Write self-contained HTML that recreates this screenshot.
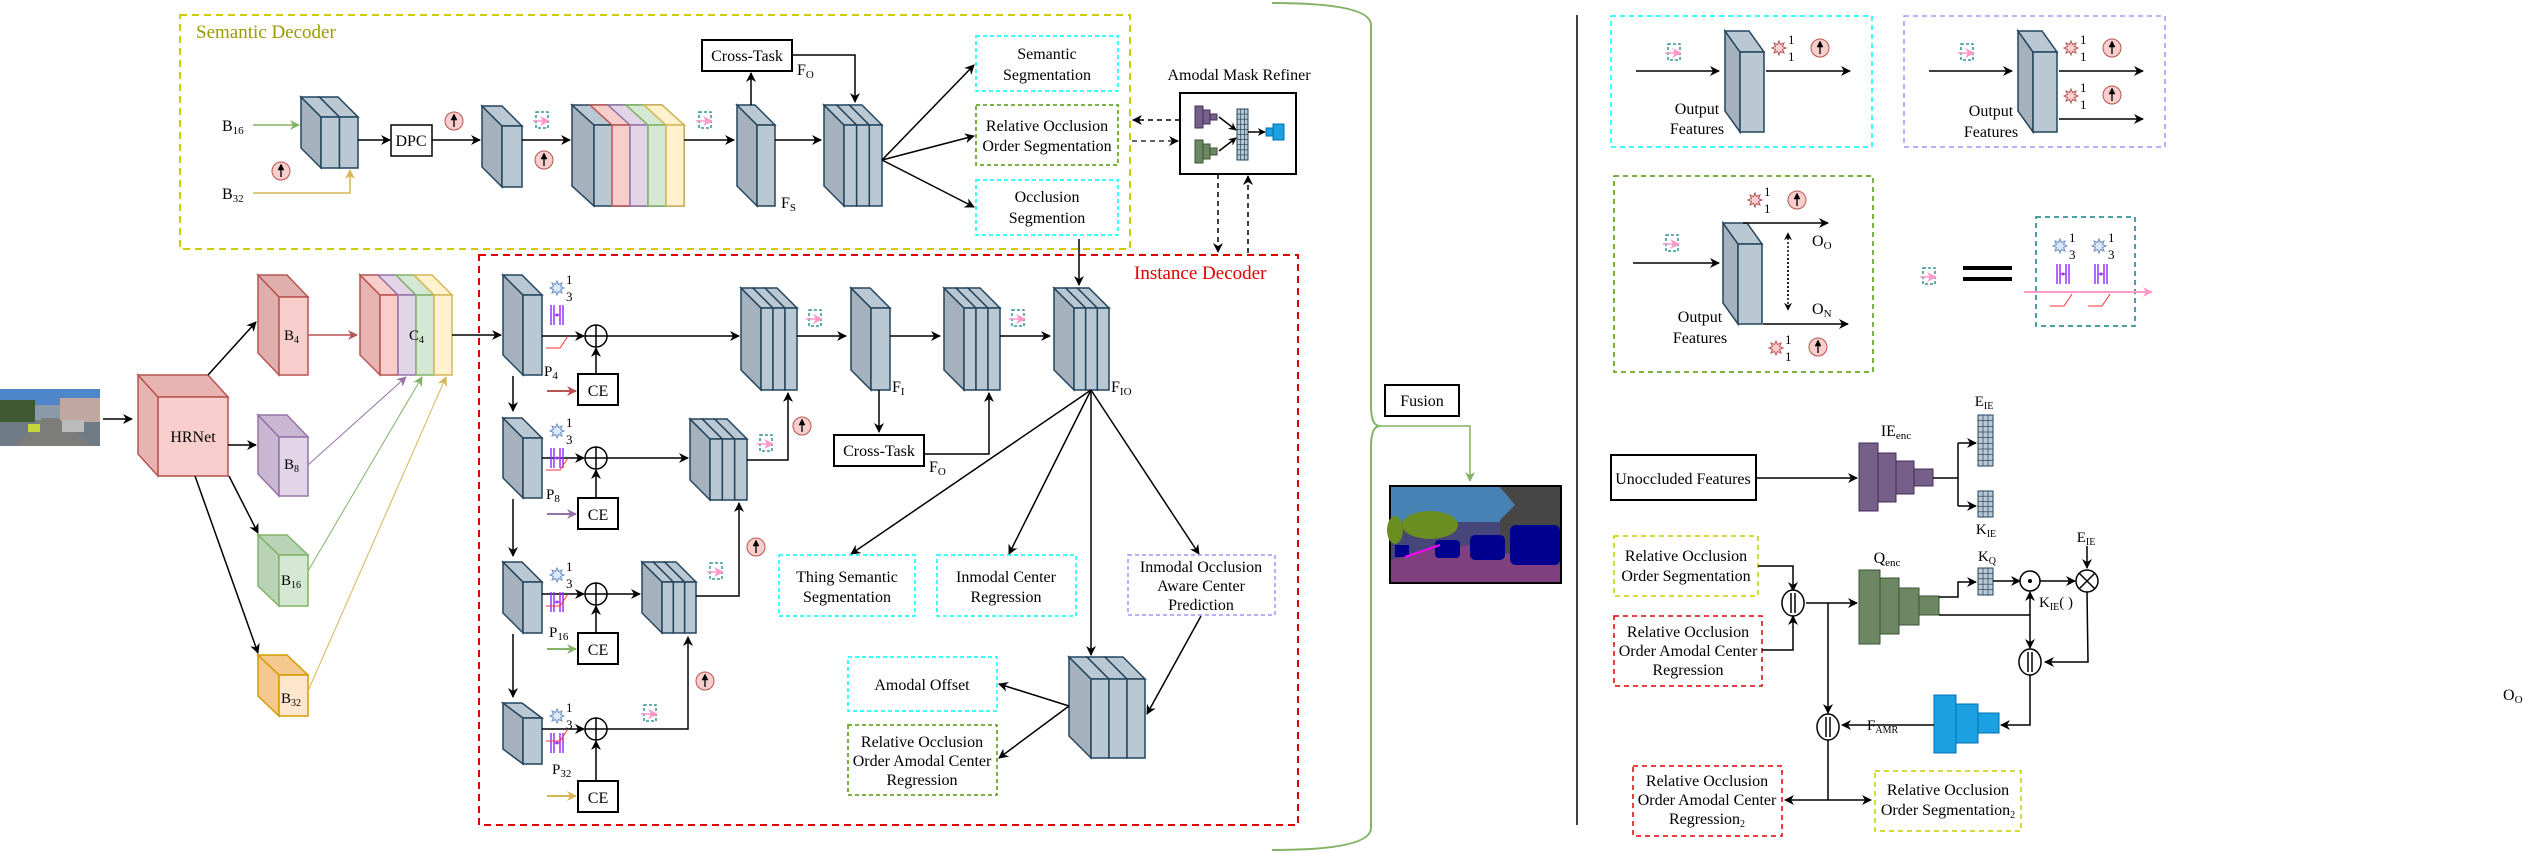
<!DOCTYPE html>
<html><head><meta charset="utf-8"><style>
html,body{margin:0;padding:0;background:#fff;}
svg{display:block;font-family:"Liberation Serif",serif;}
text{font-family:"Liberation Serif",serif;font-size:16px;fill:#000;}
</style></head><body>
<svg id="s" width="2525" height="853" viewBox="0 0 2525 853" xmlns="http://www.w3.org/2000/svg">
<defs>
<marker id="ak" viewBox="0 0 10 10" refX="9" refY="5" markerWidth="10" markerHeight="10" markerUnits="userSpaceOnUse" orient="auto"><path d="M0,0 L10,5 L0,10 L3,5z" fill="#000"/></marker>
<marker id="ar" viewBox="0 0 10 10" refX="9" refY="5" markerWidth="10" markerHeight="10" markerUnits="userSpaceOnUse" orient="auto"><path d="M0,0 L10,5 L0,10 L3,5z" fill="#b85450"/></marker>
<marker id="ap" viewBox="0 0 10 10" refX="9" refY="5" markerWidth="10" markerHeight="10" markerUnits="userSpaceOnUse" orient="auto"><path d="M0,0 L10,5 L0,10 L3,5z" fill="#9673a6"/></marker>
<marker id="ag" viewBox="0 0 10 10" refX="9" refY="5" markerWidth="10" markerHeight="10" markerUnits="userSpaceOnUse" orient="auto"><path d="M0,0 L10,5 L0,10 L3,5z" fill="#82b366"/></marker>
<marker id="ay" viewBox="0 0 10 10" refX="9" refY="5" markerWidth="10" markerHeight="10" markerUnits="userSpaceOnUse" orient="auto"><path d="M0,0 L10,5 L0,10 L3,5z" fill="#d6b656"/></marker>
<marker id="apk" viewBox="0 0 10 10" refX="9" refY="5" markerWidth="10" markerHeight="10" markerUnits="userSpaceOnUse" orient="auto"><path d="M0,0 L10,5 L0,10 L3,5z" fill="#ff99cc"/></marker>
<marker id="ak2" viewBox="0 0 10 10" refX="9" refY="5" markerWidth="8" markerHeight="8" markerUnits="userSpaceOnUse" orient="auto"><path d="M0,0 L10,5 L0,10 L3,5z" fill="#000"/></marker>
</defs>
<g id="g"></g>

<text x="196" y="38" style="font-size:19px;fill:#999900">Semantic Decoder</text>
<text x="222" y="131" style="font-size:16px">B<tspan font-size="11" dy="3">16</tspan></text>
<text x="222" y="199" style="font-size:16px">B<tspan font-size="11" dy="3">32</tspan></text>
<text x="411" y="146" text-anchor="middle" style="font-size:16px">DPC</text>
<text x="747" y="61" text-anchor="middle" style="font-size:16px">Cross-Task</text>
<text x="797" y="75" style="font-size:16px">F<tspan font-size="11" dy="3">O</tspan></text>
<text x="781" y="208" style="font-size:16px">F<tspan font-size="11" dy="3">S</tspan></text>
<text x="1047" y="59" text-anchor="middle" style="font-size:16px">Semantic</text>
<text x="1047" y="80" text-anchor="middle" style="font-size:16px">Segmentation</text>
<text x="1047" y="131" text-anchor="middle" style="font-size:16px">Relative Occlusion</text>
<text x="1047" y="151" text-anchor="middle" style="font-size:16px">Order Segmentation</text>
<text x="1047" y="202" text-anchor="middle" style="font-size:16px">Occlusion</text>
<text x="1047" y="223" text-anchor="middle" style="font-size:16px">Segmention</text>
<text x="1239" y="80" text-anchor="middle" style="font-size:16px">Amodal Mask Refiner</text>

<text x="193" y="442" text-anchor="middle" style="font-size:16px">HRNet</text>
<text x="284" y="340" style="font-size:15px">B<tspan font-size="10" dy="3">4</tspan></text>
<text x="284" y="469" style="font-size:15px">B<tspan font-size="10" dy="3">8</tspan></text>
<text x="281" y="585" style="font-size:15px">B<tspan font-size="10" dy="3">16</tspan></text>
<text x="281" y="703" style="font-size:15px">B<tspan font-size="10" dy="3">32</tspan></text>
<text x="409" y="340" style="font-size:15px">C<tspan font-size="10" dy="3">4</tspan></text>

<text x="1134" y="279" style="font-size:19px;fill:#e00000">Instance Decoder</text>
<text x="544" y="376" style="font-size:15px">P<tspan font-size="11" dy="3">4</tspan></text>
<text x="546" y="499" style="font-size:15px">P<tspan font-size="11" dy="3">8</tspan></text>
<text x="549" y="637" style="font-size:15px">P<tspan font-size="11" dy="3">16</tspan></text>
<text x="552" y="774" style="font-size:15px">P<tspan font-size="11" dy="3">32</tspan></text>
<text x="598" y="396" text-anchor="middle" style="font-size:16px">CE</text>
<text x="598" y="520" text-anchor="middle" style="font-size:16px">CE</text>
<text x="598" y="655" text-anchor="middle" style="font-size:16px">CE</text>
<text x="598" y="803" text-anchor="middle" style="font-size:16px">CE</text>
<text x="892" y="392" style="font-size:16px">F<tspan font-size="11" dy="3">I</tspan></text>
<text x="879" y="456" text-anchor="middle" style="font-size:16px">Cross-Task</text>
<text x="929" y="472" style="font-size:16px">F<tspan font-size="11" dy="3">O</tspan></text>
<text x="1111" y="392" style="font-size:16px">F<tspan font-size="11" dy="3">IO</tspan></text>
<text x="847" y="582" text-anchor="middle" style="font-size:16px">Thing Semantic</text>
<text x="847" y="602" text-anchor="middle" style="font-size:16px">Segmentation</text>
<text x="1006" y="582" text-anchor="middle" style="font-size:16px">Inmodal Center</text>
<text x="1006" y="602" text-anchor="middle" style="font-size:16px">Regression</text>
<text x="1201" y="572" text-anchor="middle" style="font-size:16px">Inmodal Occlusion</text>
<text x="1201" y="591" text-anchor="middle" style="font-size:16px">Aware Center</text>
<text x="1201" y="610" text-anchor="middle" style="font-size:16px">Prediction</text>
<text x="922" y="690" text-anchor="middle" style="font-size:16px">Amodal Offset</text>
<text x="922" y="747" text-anchor="middle" style="font-size:16px">Relative Occlusion</text>
<text x="922" y="766" text-anchor="middle" style="font-size:16px">Order Amodal Center</text>
<text x="922" y="785" text-anchor="middle" style="font-size:16px">Regression</text>

<text x="1422" y="406" text-anchor="middle" style="font-size:16px">Fusion</text>

<text x="1697" y="114" text-anchor="middle" style="font-size:16px">Output</text>
<text x="1697" y="134" text-anchor="middle" style="font-size:16px">Features</text>
<text x="1991" y="116" text-anchor="middle" style="font-size:16px">Output</text>
<text x="1991" y="137" text-anchor="middle" style="font-size:16px">Features</text>
<text x="1700" y="322" text-anchor="middle" style="font-size:16px">Output</text>
<text x="1700" y="343" text-anchor="middle" style="font-size:16px">Features</text>
<text x="1812" y="246" style="font-size:16px">O<tspan font-size="11" dy="3">O</tspan></text>
<text x="1812" y="314" style="font-size:16px">O<tspan font-size="11" dy="3">N</tspan></text>

<text x="1984" y="406" text-anchor="middle" style="font-size:15px">E<tspan font-size="10" dy="3">IE</tspan></text>
<text x="1896" y="436" text-anchor="middle" style="font-size:16px">IE<tspan font-size="11" dy="3">enc</tspan></text>
<text x="1683" y="484" text-anchor="middle" style="font-size:16px">Unoccluded Features</text>
<text x="1986" y="534" text-anchor="middle" style="font-size:15px">K<tspan font-size="10" dy="3">IE</tspan></text>
<text x="2086" y="542" text-anchor="middle" style="font-size:15px">E<tspan font-size="10" dy="3">IE</tspan></text>
<text x="1987" y="561" text-anchor="middle" style="font-size:15px">K<tspan font-size="10" dy="3">Q</tspan></text>
<text x="1887" y="563" text-anchor="middle" style="font-size:16px">Q<tspan font-size="11" dy="3">enc</tspan></text>
<text x="2039" y="607" style="font-size:15px">K<tspan font-size="10" dy="3">IE</tspan><tspan dy="-3">( )</tspan></text>
<text x="1867" y="730" style="font-size:15px">F<tspan font-size="10" dy="3">AMR</tspan></text>
<text x="1686" y="561" text-anchor="middle" style="font-size:16px">Relative Occlusion</text>
<text x="1686" y="581" text-anchor="middle" style="font-size:16px">Order Segmentation</text>
<text x="1688" y="637" text-anchor="middle" style="font-size:16px">Relative Occlusion</text>
<text x="1688" y="656" text-anchor="middle" style="font-size:16px">Order Amodal Center</text>
<text x="1688" y="675" text-anchor="middle" style="font-size:16px">Regression</text>
<text x="1707" y="786" text-anchor="middle" style="font-size:16px">Relative Occlusion</text>
<text x="1707" y="805" text-anchor="middle" style="font-size:16px">Order Amodal Center</text>
<text x="1707" y="824" text-anchor="middle" style="font-size:16px">Regression<tspan font-size="10" dy="3">2</tspan></text>
<text x="1948" y="795" text-anchor="middle" style="font-size:16px">Relative Occlusion</text>
<text x="1948" y="815" text-anchor="middle" style="font-size:16px">Order Segmentation<tspan font-size="10" dy="3">2</tspan></text>
<text x="2503" y="700" style="font-size:16px">O<tspan font-size="11" dy="3">O</tspan></text>

<g id="t"></g>
</svg>
<script>
const NS="http://www.w3.org/2000/svg";
const G=document.getElementById('g');const T=document.getElementById('t');
function el(tag,a,p){const e=document.createElementNS(NS,tag);for(const k in a)e.setAttribute(k,a[k]);(p||G).appendChild(e);return e;}
function txt(x,y,s,fs,p){const e=el('text',{x:x,y:y,style:'font-size:'+fs+'px'},p||T);e.textContent=s;return e;}
function ln(pts,m,col,w,dash){el('polyline',{points:pts.map(p=>p.join(',')).join(' '),fill:'none',stroke:col||'#000','stroke-width':w||1.5,'marker-end':m===null?'':'url(#'+(m||'ak')+')','stroke-dasharray':dash||''});}
function rect(x,y,w,h,st,fill,dash,sw){el('rect',{x:x,y:y,width:w,height:h,fill:fill||'none',stroke:st,'stroke-width':sw||1.5,'stroke-dasharray':dash||''});}
function P(pts,fill,st,sw){el('polygon',{points:pts.map(p=>p.join(',')).join(' '),fill:fill,stroke:st,'stroke-width':sw||1.5});}
const DK='#23445d',LF='#a5b2bd',FR='#bac8d3';
function blk(x1,y1,x2,y2,n,d,dy,cols){d=d||20;dy=dy||20;const s=(x2-x1-d)/n;
 cols=cols||[];
 P([[x1,y1],[x1+d,y1+dy],[x1+d,y2],[x1,y2-dy]],cols[0]?cols[0][0]:LF,cols[0]?cols[0][1]:DK);
 for(let i=0;i<n;i++){const c=cols[i]||[FR,DK];const fx=x1+d+i*s;
  P([[x1+i*s,y1],[x1+(i+1)*s,y1],[fx+s,y1+dy],[fx,y1+dy]],c[0],c[1]);
  P([[fx,y1+dy],[fx+s,y1+dy],[fx+s,y2],[fx,y2]],c[0],c[1]);}
}
function cube(x1,y1,x2,y2,d,dy,f,l,st){P([[x1,y1],[x1+d,y1+dy],[x1+d,y2],[x1,y2-dy]],l,st);P([[x1,y1],[x2-d,y1],[x2,y1+dy],[x1+d,y1+dy]],l,st);P([[x1+d,y1+dy],[x2,y1+dy],[x2,y2],[x1+d,y2]],f,st);}
function up(x,y){el('circle',{cx:x,cy:y,r:9,fill:'#f8cecc',stroke:'#b85450','stroke-width':1});el('line',{x1:x,y1:y+6,x2:x,y2:y-2,stroke:'#000','stroke-width':1.3});P([[x-3,y-1],[x+3,y-1],[x,y-7]],'#000','#000',0.5);}
function dsh(x,y){rect(x-6,y-8,12,16,'#0e8088',null,'3,2',1.3);el('line',{x1:x-9,y1:y+1,x2:x+7,y2:y+1,stroke:'#ff99cc','stroke-width':1.5,'marker-end':'url(#apk)'});}
function star(x,y,r,f,s){let pts=[];for(let i=0;i<16;i++){const rr=i%2?r*0.55:r;const a=i*Math.PI/8;pts.push([x+rr*Math.sin(a),y-rr*Math.cos(a)]);}P(pts,f,s,1);}
function st13(x,y,a,b,red){star(x,y,7,red?'#f8cecc':'#dae8fc',red?'#b85450':'#6c8ebf');txt(x+9,y-4,a,13);txt(x+9,y+13,b,13);}
function bars(x,y){for(const dx of [-6,-3,3,6])el('line',{x1:x+dx,y1:y-10,x2:x+dx,y2:y+10,stroke:'#9933ff','stroke-width':1.5});el('line',{x1:x-3,y1:y,x2:x+3,y2:y,stroke:'#9933ff','stroke-width':1});el('circle',{cx:x,cy:y,r:1.5,fill:'#9933ff'});}
function rl(x,y){ln([[x,y+6],[x+14,y+6],[x+22,y-6]],null,'#ff3333',1);}
function plus(x,y){el('circle',{cx:x,cy:y,r:11,fill:'#fff',stroke:'#000','stroke-width':1.5});el('line',{x1:x-11,y1:y,x2:x+11,y2:y,stroke:'#000','stroke-width':1.5});el('line',{x1:x,y1:y-11,x2:x,y2:y+11,stroke:'#000','stroke-width':1.5});}
function cat(x,y,r){el('ellipse',{cx:x,cy:y,rx:r*0.85,ry:r,fill:'#fff',stroke:'#000','stroke-width':1.5});el('line',{x1:x-2,y1:y-r+3,x2:x-2,y2:y+r-3,stroke:'#000','stroke-width':1.5});el('line',{x1:x+2,y1:y-r+3,x2:x+2,y2:y+r-3,stroke:'#000','stroke-width':1.5});}
function grid(x,y,w,h,rows){rect(x,y,w,h,'#23445d','#bac8d3',null,1);for(let i=1;i<rows;i++)el('line',{x1:x,y1:y+i*h/rows,x2:x+w,y2:y+i*h/rows,stroke:'#23445d','stroke-width':0.7});el('line',{x1:x+w/3,y1:y,x2:x+w/3,y2:y+h,stroke:'#23445d','stroke-width':0.7});el('line',{x1:x+2*w/3,y1:y,x2:x+2*w/3,y2:y+h,stroke:'#23445d','stroke-width':0.7});}
function pyr(x,steps,col,st){steps.forEach(s=>rect(s[0],s[1],s[2]-s[0],s[3]-s[1],st||col,col,null,1));}

rect(180,15,950,234,'#cccc00',null,'7,5',2);
rect(479,255,819,570,'#e00000',null,'7,5',2);
el('path',{d:'M1272,3 Q1371,3 1371,25 L1371,406 Q1371,426 1380,426 Q1371,426 1371,447 L1371,828 Q1371,850 1272,850',fill:'none',stroke:'#82b366','stroke-width':2});
el('line',{x1:1577,y1:15,x2:1577,y2:825,stroke:'#000','stroke-width':1.5});

// street image
el('rect',{x:0,y:389,width:100,height:57,fill:'#6f7b85'});
el('rect',{x:0,y:389,width:100,height:16,fill:'#4f86c9'});
el('rect',{x:0,y:400,width:35,height:22,fill:'#3f5a32'});
el('rect',{x:60,y:398,width:40,height:24,fill:'#c0a8a0'});
el('rect',{x:35,y:405,width:25,height:15,fill:'#8a9aa8'});
el('polygon',{points:'15,446 42,418 58,418 92,446',fill:'#7c7c7a'});
el('rect',{x:28,y:424,width:12,height:8,fill:'#c6d63a'});
el('rect',{x:62,y:420,width:22,height:12,fill:'#bbb'});

// semantic
ln([[253,125],[299,125]],'ag','#82b366');
ln([[253,193],[350,193],[350,170]],'ay','#d6b656');
blk(301,97,358,168,2);
ln([[358,140],[390,140]]);
rect(391,125,41,31,'#000','#fff');
ln([[432,140],[480,140]]);
blk(482,106,522,187,1);
ln([[522,140],[570,140]]);
blk(572,105,684,206,1,22,20);
(function(){const d=22,s=(684-572-d)/5;const cs=[['#f8cecc','#b85450'],['#e1d5e7','#9673a6'],['#d5e8d4','#82b366'],['#fff2cc','#d6b656']];
 cs.forEach((c,i)=>{const k=i+1;const fx=572+d+k*s;P([[572+k*s,105],[572+(k+1)*s,105],[fx+s,125],[fx,125]],c[0],c[1]);P([[fx,125],[fx+s,125],[fx+s,206],[fx,206]],c[0],c[1]);});})();
ln([[684,140],[734,140]]);
blk(737,105,775,206,1);
ln([[775,140],[821,140]]);
blk(824,105,882,206,3);
ln([[751,105],[751,73]]);
rect(702,40,90,31,'#000','#fff',null,2);
ln([[792,55],[855,55],[855,102]]);
ln([[882,160],[974,65]]);ln([[882,160],[974,136]]);ln([[882,160],[974,207]]);
up(281,171);up(454,121);up(544,160);dsh(542,120);dsh(705,120);
rect(976,36,142,55,'#00ffff',null,'4,3',1.5);
rect(976,105,142,60,'#4d9900',null,'4,3',1.5);
rect(976,180,142,55,'#00ffff',null,'4,3',1.5);
rect(1180,93,116,81,'#000','#fff',null,2);
pyr(0,[[1195,106,1203,128],[1203,110,1210,124],[1210,114,1217,120]],'#76608a','#432d57');
pyr(0,[[1195,140,1203,163],[1203,144,1210,159],[1210,148,1217,155]],'#6d8764','#3a5431');
grid(1237,109,11,51,10);
pyr(0,[[1273,124,1284,140],[1266,128,1273,136]],'#1ba1e2','#006eaf');
ln([[1219,117],[1236,130]],'ak2');ln([[1219,151],[1236,138]],'ak2');ln([[1248,132],[1265,132]],'ak2');
ln([[1180,120],[1133,120]],'ak','#000',1.5,'5,4');
ln([[1132,141],[1178,141]],'ak','#333',1.5,'5,4');
ln([[1218,174],[1218,252]],'ak','#000',1.5,'5,4');
ln([[1248,253],[1248,176]],'ak','#000',1.5,'5,4');
ln([[1079,239],[1079,285]]);

// left
ln([[103,419],[132,419]]);
cube(138,375,228,476,20,22,'#f8cecc','#e8b4b2','#b85450');
ln([[208,375],[256,322]]);ln([[228,445],[256,445]]);ln([[229,476],[258,533]]);ln([[195,476],[258,653]]);
cube(258,275,308,375,21,22,'#f8cecc','#e0aeac','#b85450');
cube(258,415,308,496,21,22,'#e1d5e7','#c9b6d3','#9673a6');
cube(258,535,308,606,21,20,'#d5e8d4','#b9d3b6','#82b366');
cube(258,655,308,716,21,20,'#ffe6cc','#f5c890','#d79b00');
ln([[308,335],[357,335]],'ar','#b85450');
(function(){const cs=[['#f8cecc','#b85450'],['#f8cecc','#b85450'],['#e1d5e7','#9673a6'],['#d5e8d4','#82b366'],['#fff2cc','#d6b656']];
 const x1=360,y1=275,x2=452,y2=375,d=20,dy=20,s=(x2-x1-d)/4;
 P([[x1,y1],[x1+d,y1+dy],[x1+d,y2],[x1,y2-dy]],'#e8b4b2','#b85450');
 for(let i=0;i<4;i++){const c=cs[i+1];const fx=x1+d+i*s;P([[x1+i*s,y1],[x1+(i+1)*s,y1],[fx+s,y1+dy],[fx,y1+dy]],c[0],c[1]);P([[fx,y1+dy],[fx+s,y1+dy],[fx+s,y2],[fx,y2]],c[0],c[1]);}})();
ln([[308,465],[406,377]],'ap','#9673a6',1);
ln([[308,571],[422,377]],'ag','#82b366',1);
ln([[308,691],[446,377]],'ay','#d6b656',1);
ln([[452,335],[501,335]]);

const PY=[[275,375,336,374,405],[418,498,458,498,529],[562,633,594,633,664],[703,764,729,781,812]];
PY.forEach((p,i)=>{blk(503,p[0],542,p[1],1,20,i==3?15:20);plus(596,p[2]);ln([[542,p[2]],[584,p[2]]]);rect(578,p[3],40,31,'#000','#fff',null,2);ln([[596,p[3]],[596,p[2]+12]]);st13(557,p[0]+13,'1','3');bars(557,p[0]+40);rl(546,p[2]+6);});
ln([[513,376],[513,411]]);ln([[513,499],[513,556]]);ln([[513,634],[513,697]]);
ln([[547,391],[576,391]],'ar','#b85450',2);ln([[547,514],[576,514]],'ap','#9673a6',2);ln([[547,649],[576,649]],'ag','#82b366',2);ln([[547,796],[576,796]],'ay','#d6b656',2);
ln([[607,336],[739,336]]);
blk(741,288,797,390,3);
ln([[607,458],[688,458]]);blk(690,419,747,500,3);
ln([[607,594],[640,594]]);blk(642,562,696,633,3);
ln([[607,729],[688,729],[688,637]]);up(705,681);dsh(650,713);
ln([[696,596],[739,596],[739,503]]);up(756,547);dsh(716,571);
ln([[747,460],[788,460],[788,393]]);up(802,426);dsh(766,443);
ln([[797,336],[846,336]]);dsh(815,318);
blk(851,288,890,390,1);
ln([[890,336],[940,336]]);
blk(944,288,1000,390,3);
ln([[879,390],[879,432]]);rect(834,435,90,31,'#000','#fff',null,2);
ln([[924,454],[989,454],[989,393]]);
ln([[1000,336],[1050,336]]);dsh(1018,318);
blk(1054,288,1109,390,3);
ln([[1091,390],[851,554]]);ln([[1091,390],[1009,554]]);ln([[1091,390],[1199,554]]);ln([[1091,390],[1091,655]]);
rect(779,555,136,61,'#00ffff',null,'4,3',1.5);
rect(937,555,139,61,'#00ffff',null,'4,3',1.5);
rect(1128,555,147,60,'#9999ff',null,'4,3',1.5);
blk(1069,657,1145,758,3,22,22);
ln([[1201,616],[1147,714]]);
ln([[1069,706],[999,684]]);ln([[1069,706],[999,758]]);
rect(848,657,149,54,'#00ffff',null,'4,3',1.5);
rect(848,725,149,70,'#4d9900',null,'4,3',1.5);

// fusion
rect(1385,385,74,31,'#000','#fff',null,2);
ln([[1376,426],[1470,426],[1470,481]],'ag','#82b366',1.5);
el('rect',{x:1390,y:486,width:171,height:97,fill:'#46467a',stroke:'#000','stroke-width':2});
el('rect',{x:1391,y:487,width:169,height:35,fill:'#4682b4'});
el('polygon',{points:'1500,487 1560,487 1560,560 1500,560 1500,520 1515,505',fill:'#464646'});
el('polygon',{points:'1391,560 1430,550 1470,545 1560,565 1560,582 1391,582',fill:'#804080'});
el('ellipse',{cx:1430,cy:525,rx:28,ry:14,fill:'#6b8e23'});
el('ellipse',{cx:1395,cy:530,rx:8,ry:14,fill:'#6b8e23'});
el('rect',{x:1510,y:525,width:50,height:40,fill:'#00008e',rx:6});
el('rect',{x:1470,y:535,width:35,height:25,fill:'#00008e',rx:5});
el('rect',{x:1435,y:540,width:25,height:18,fill:'#00008e',rx:4});
el('rect',{x:1395,y:545,width:14,height:12,fill:'#00008e'});
el('line',{x1:1405,y1:557,x2:1440,y2:545,stroke:'#ff00ff','stroke-width':2});

// right panels
rect(1611,16,261,131,'#00ffff',null,'5,4',1.5);
dsh(1674,52);ln([[1636,71],[1719,71]]);blk(1725,31,1764,132,1,15,21);ln([[1766,71],[1850,71]]);st13(1779,48,'1','1',1);up(1820,48);
rect(1904,16,261,131,'#9999ff',null,'5,4',1.5);
dsh(1967,52);ln([[1929,71],[2012,71]]);blk(2018,31,2057,132,1,15,21);ln([[2059,71],[2143,71]]);ln([[2059,119],[2143,119]]);
st13(2071,48,'1','1',1);up(2112,48);st13(2071,96,'1','1',1);up(2112,95);
rect(1614,176,259,196,'#4d9900',null,'5,4',1.5);
st13(1755,200,'1','1',1);up(1797,200);dsh(1672,243);ln([[1633,263],[1719,263]]);
blk(1723,223,1762,324,1,15,21);ln([[1743,223],[1828,223]]);ln([[1763,324],[1848,324]]);
ln([[1788,296],[1788,233]],'ak2','#000',1.5,'2,2');ln([[1788,258],[1788,310]],'ak2','#000',1.5,'2,2');
st13(1776,348,'1','1',1);up(1818,347);
dsh(1929,276);
el('rect',{x:1963,y:266,width:49,height:4,fill:'#000'});el('rect',{x:1963,y:277,width:49,height:4,fill:'#000'});
rect(2036,217,99,109,'#0e8088',null,'5,4',1.5);
st13(2060,246,'1','3');st13(2099,246,'1','3');bars(2063,274);bars(2101,274);
ln([[2024,292],[2152,292]],'apk','#ff99cc',2);rl(2050,300);rl(2088,300);

// lower right
grid(1978,415,15,51,9);
rect(1611,455,145,45,'#000','#fff',null,2);
ln([[1756,478],[1857,478]]);
pyr(0,[[1859,443,1878,511],[1878,453,1896,502],[1896,461,1914,494],[1914,469,1933,486]],'#76608a','#432d57');
ln([[1933,478],[1958,478]],null);ln([[1958,443],[1958,506]],null);
ln([[1958,443],[1976,443]]);ln([[1958,506],[1976,506]]);
grid(1978,491,15,26,5);
ln([[2087,546],[2087,568]]);
grid(1978,568,15,27,5);
pyr(0,[[1859,570,1880,644],[1880,578,1899,634],[1899,588,1919,625],[1919,596,1939,615]],'#6d8764','#3a5431');
ln([[1939,597],[1958,597],[1958,582],[1976,582]]);
ln([[1993,581],[2020,581]]);
el('circle',{cx:2030,cy:581,r:10,fill:'#fff',stroke:'#000','stroke-width':1.5});el('circle',{cx:2030,cy:581,r:2,fill:'#000'});
ln([[2040,581],[2075,581]]);
el('circle',{cx:2087,cy:581,r:11,fill:'#fff',stroke:'#000','stroke-width':1.5});
el('line',{x1:2079,y1:573,x2:2095,y2:589,stroke:'#000','stroke-width':1.5});el('line',{x1:2095,y1:573,x2:2079,y2:589,stroke:'#000','stroke-width':1.5});
ln([[1939,615],[2030,615]],null);ln([[2030,615],[2030,592]]);ln([[2030,615],[2030,648]]);
cat(2030,662,13);
ln([[2087,592],[2088,662],[2045,662]]);
ln([[2030,675],[2030,725],[2001,725]]);
pyr(0,[[1934,695,1956,753],[1956,704,1978,743],[1978,713,1999,733]],'#1ba1e2','#006eaf');
ln([[1934,725],[1842,725]]);
cat(1828,727,13);
rect(1614,536,144,60,'#cccc00',null,'5,4',1.5);
ln([[1758,566],[1793,566],[1793,591]]);
rect(1614,616,148,70,'#e00000',null,'5,4',1.5);
ln([[1762,650],[1793,650],[1793,616]]);
cat(1793,603,13);
ln([[1806,603],[1857,603]]);
ln([[1828,603],[1828,713]]);
ln([[1828,740],[1828,800]],null);
ln([[1828,800],[1785,800]]);ln([[1828,800],[1871,800]]);
rect(1633,766,149,70,'#e00000',null,'5,4',1.5);
rect(1875,771,146,60,'#cccc00',null,'5,4',1.5);
</script>
</body></html>
